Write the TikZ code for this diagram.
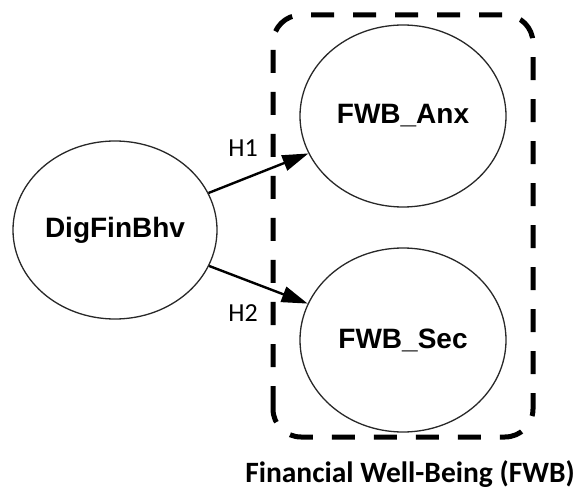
\documentclass[tikz,border=0pt]{standalone}
\usepackage{fontspec}
\setmainfont{Liberation Sans}
\newfontfamily\calibri{Carlito}
\usetikzlibrary{shapes.geometric,arrows.meta}
\definecolor{trait}{RGB}{40,40,40}

\begin{document}
\begin{tikzpicture}[x=1pt,y=1pt,
  construct/.style={ellipse,draw=trait,line width=1.3pt,inner sep=0pt,font=\fontsize{28}{30}\selectfont\bfseries},
  chemin/.style={line width=2.4pt,-{Triangle[length=26pt,width=16pt]}},
  hyp/.style={font=\calibri\fontsize{26}{28}\selectfont}]
\useasboundingbox (0,0) rectangle (580,490);
% bloc FWB
\draw [line width=5pt,dash pattern=on 23pt off 19pt,rounded corners=28pt] (273,53) rectangle (533,475);
\node [font=\calibri\bfseries\fontsize{29.5}{31}\selectfont] (fwb) at (410,16) {Financial Well-Being (FWB)};

\node [construct,minimum width=204pt,minimum height=178pt] (dig) at (115,260) {DigFinBhv};
\node [construct,minimum width=206pt,minimum height=182pt] (anx) at (403,374) {FWB\_Anx};
\node [construct,minimum width=206pt,minimum height=184pt] (sec) at (403,150) {FWB\_Sec};

\draw [chemin] (dig) -- (anx);
\draw [chemin] (dig) -- (sec);
\node [hyp] (h1) at (243,342) {H1};
\node [hyp] (h2) at (243,177) {H2};
\end{tikzpicture}
\end{document}
